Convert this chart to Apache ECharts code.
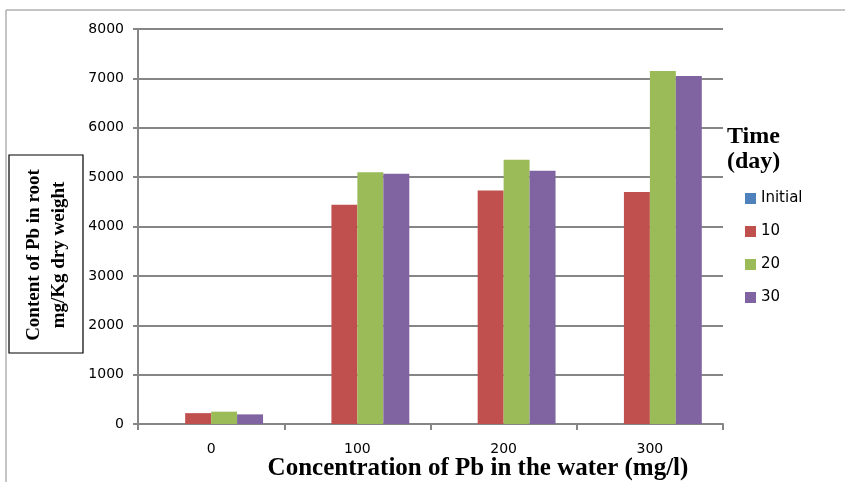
<!DOCTYPE html>
<html><head><meta charset="utf-8">
<script src="https://cdn.jsdelivr.net/npm/echarts@6/dist/echarts.min.js"></script>
<style>html,body{margin:0;padding:0;background:#fff}#c{width:845px;height:482px}</style>
</head><body><div id="c"></div>
<script>
const categories = ['0', '100', '200', '300'];
const seriesNames = ['Initial', '10', '20', '30'];
const initialVals = [0, 0, 0, 0];
const day10Vals = [220, 4440, 4730, 4700];
const day20Vals = [250, 5100, 5350, 7150];
const day30Vals = [195, 5070, 5130, 7050];
const yTicks = [0, 1000, 2000, 3000, 4000, 5000, 6000, 7000, 8000];
const colors = ['#4F81BD', '#C0504D', '#9BBB59', '#8064A2'];

const chart = echarts.init(document.getElementById('c'));
const allVals = [initialVals, day10Vals, day20Vals, day30Vals];
chart.setOption({
  animation: false,
  backgroundColor: '#fff',
  grid: {left: 138, right: 122, top: 29, bottom: 58},
  legend: {
    orient: 'vertical', left: 745, top: 191, padding: 0,
    itemWidth: 11, itemHeight: 11, itemGap: 18, icon: 'rect',
    data: seriesNames,
    textStyle: {fontFamily: 'DejaVu Sans', fontSize: 15, color: '#000'}
  },
  xAxis: {
    type: 'category', data: categories,
    axisLine: {lineStyle: {color: '#868686', width: 2}},
    axisTick: {show: true, length: 6, lineStyle: {color: '#868686', width: 2}},
    axisLabel: {fontFamily: 'DejaVu Sans', fontSize: 14, color: '#000', margin: 18}
  },
  yAxis: {
    type: 'value', min: yTicks[0], max: yTicks[yTicks.length - 1], interval: 1000,
    axisLine: {show: true, lineStyle: {color: '#868686', width: 2}},
    axisTick: {show: true, length: 5, lineStyle: {color: '#868686', width: 2}},
    axisLabel: {fontFamily: 'DejaVu Sans', fontSize: 14, color: '#000', margin: 14,
      formatter: v => String(v)},
    splitLine: {lineStyle: {color: '#868686', width: 2}}
  },
  series: seriesNames.map((n, i) => ({
    name: n, type: 'bar', data: allVals[i],
    barGap: '0%', barCategoryGap: '29%',
    itemStyle: {color: colors[i]}
  })),
  graphic: [
    {type: 'line', shape: {x1: 6, y1: 10, x2: 845, y2: 10}, style: {stroke: '#b0b0b0', lineWidth: 1.5}, silent: true},
    {type: 'line', shape: {x1: 6, y1: 10, x2: 6, y2: 482}, style: {stroke: '#b0b0b0', lineWidth: 1.5}, silent: true},
    {type: 'rect', shape: {x: 9, y: 155, width: 74, height: 198}, style: {fill: '#fff', stroke: '#000', lineWidth: 1.2}},
    {type: 'text', x: 47, y: 255, rotation: Math.PI / 2,
      style: {text: 'Content of Pb in root\nmg/Kg dry weight', font: 'bold 19px "Liberation Serif"',
        fill: '#000', align: 'center', verticalAlign: 'middle', lineHeight: 25}},
    {type: 'text', x: 478, y: 469,
      style: {text: 'Concentration of Pb in the water (mg/l)', font: 'bold 25px "Liberation Serif"',
        fill: '#000', align: 'center', verticalAlign: 'middle'}},
    {type: 'text', x: 727, y: 124,
      style: {text: 'Time\n(day)', font: 'bold 24px "Liberation Serif"', fill: '#000',
        align: 'left', verticalAlign: 'top', lineHeight: 25}}
  ]
});
</script></body></html>
